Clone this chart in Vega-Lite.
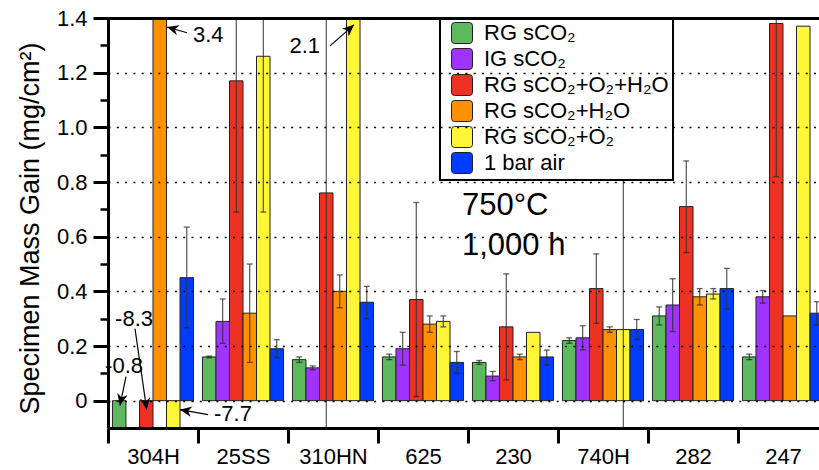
{
  "$schema": "https://vega.github.io/schema/vega-lite/v6.json",
  "width": 711,
  "height": 410,
  "autosize": {"type": "none"},
  "padding": {"left": 108, "top": 18, "right": 0, "bottom": 42},
  "config": {
    "view": {"stroke": null},
    "font": "Liberation Sans",
    "axis": {"labelFont": "Liberation Sans", "titleFont": "Liberation Sans", "labelColor": "black", "titleColor": "black"},
    "legend": {"strokeColor": "black", "strokeWidth": 2, "fillColor": "white"},
    "text": {"font": "Liberation Sans", "color": "black"}
  },
  "datasets": {
    "bars": [
      {"alloy": "304H", "env": "RG sCO₂", "value": -0.8},
      {"alloy": "304H", "env": "RG sCO₂+O₂+H₂O", "value": -8.3},
      {"alloy": "304H", "env": "RG sCO₂+H₂O", "value": 3.4},
      {"alloy": "304H", "env": "RG sCO₂+O₂", "value": -7.7},
      {"alloy": "304H", "env": "1 bar air", "value": 0.45, "lo": 0.267, "hi": 0.635},
      {"alloy": "25SS", "env": "RG sCO₂", "value": 0.16, "lo": 0.157, "hi": 0.163},
      {"alloy": "25SS", "env": "IG sCO₂", "value": 0.29, "lo": 0.21, "hi": 0.372},
      {"alloy": "25SS", "env": "RG sCO₂+O₂+H₂O", "value": 1.17, "lo": 0.69, "hi": 1.65},
      {"alloy": "25SS", "env": "RG sCO₂+H₂O", "value": 0.32, "lo": 0.14, "hi": 0.5},
      {"alloy": "25SS", "env": "RG sCO₂+O₂", "value": 1.26, "lo": 0.69, "hi": 1.83},
      {"alloy": "25SS", "env": "1 bar air", "value": 0.19, "lo": 0.157, "hi": 0.223},
      {"alloy": "310HN", "env": "RG sCO₂", "value": 0.15, "lo": 0.14, "hi": 0.16},
      {"alloy": "310HN", "env": "IG sCO₂", "value": 0.12, "lo": 0.113, "hi": 0.127},
      {"alloy": "310HN", "env": "RG sCO₂+O₂+H₂O", "value": 0.76, "lo": -0.2, "hi": 1.72},
      {"alloy": "310HN", "env": "RG sCO₂+H₂O", "value": 0.4, "lo": 0.34, "hi": 0.46},
      {"alloy": "310HN", "env": "RG sCO₂+O₂", "value": 2.1},
      {"alloy": "310HN", "env": "1 bar air", "value": 0.36, "lo": 0.3, "hi": 0.418},
      {"alloy": "625", "env": "RG sCO₂", "value": 0.16, "lo": 0.15, "hi": 0.17},
      {"alloy": "625", "env": "IG sCO₂", "value": 0.19, "lo": 0.13, "hi": 0.25},
      {"alloy": "625", "env": "RG sCO₂+O₂+H₂O", "value": 0.37, "lo": 0.015, "hi": 0.725},
      {"alloy": "625", "env": "RG sCO₂+H₂O", "value": 0.28, "lo": 0.25, "hi": 0.31},
      {"alloy": "625", "env": "RG sCO₂+O₂", "value": 0.29, "lo": 0.27, "hi": 0.31},
      {"alloy": "625", "env": "1 bar air", "value": 0.14, "lo": 0.1, "hi": 0.18},
      {"alloy": "230", "env": "RG sCO₂", "value": 0.14, "lo": 0.133, "hi": 0.147},
      {"alloy": "230", "env": "IG sCO₂", "value": 0.09, "lo": 0.073, "hi": 0.107},
      {"alloy": "230", "env": "RG sCO₂+O₂+H₂O", "value": 0.27, "lo": 0.076, "hi": 0.464},
      {"alloy": "230", "env": "RG sCO₂+H₂O", "value": 0.16, "lo": 0.15, "hi": 0.17},
      {"alloy": "230", "env": "RG sCO₂+O₂", "value": 0.25},
      {"alloy": "230", "env": "1 bar air", "value": 0.16, "lo": 0.13, "hi": 0.185},
      {"alloy": "740H", "env": "RG sCO₂", "value": 0.22, "lo": 0.21, "hi": 0.23},
      {"alloy": "740H", "env": "IG sCO₂", "value": 0.23, "lo": 0.186, "hi": 0.274},
      {"alloy": "740H", "env": "RG sCO₂+O₂+H₂O", "value": 0.41, "lo": 0.283, "hi": 0.537},
      {"alloy": "740H", "env": "RG sCO₂+H₂O", "value": 0.26, "lo": 0.25, "hi": 0.27},
      {"alloy": "740H", "env": "RG sCO₂+O₂", "value": 0.26, "lo": -0.4, "hi": 0.92},
      {"alloy": "740H", "env": "1 bar air", "value": 0.26, "lo": 0.224, "hi": 0.297},
      {"alloy": "282", "env": "RG sCO₂", "value": 0.31, "lo": 0.277, "hi": 0.343},
      {"alloy": "282", "env": "IG sCO₂", "value": 0.35, "lo": 0.253, "hi": 0.446},
      {"alloy": "282", "env": "RG sCO₂+O₂+H₂O", "value": 0.71, "lo": 0.542, "hi": 0.877},
      {"alloy": "282", "env": "RG sCO₂+H₂O", "value": 0.38, "lo": 0.35, "hi": 0.41},
      {"alloy": "282", "env": "RG sCO₂+O₂", "value": 0.39, "lo": 0.372, "hi": 0.41},
      {"alloy": "282", "env": "1 bar air", "value": 0.41, "lo": 0.335, "hi": 0.484},
      {"alloy": "247", "env": "RG sCO₂", "value": 0.16, "lo": 0.15, "hi": 0.17},
      {"alloy": "247", "env": "IG sCO₂", "value": 0.38, "lo": 0.357, "hi": 0.403},
      {"alloy": "247", "env": "RG sCO₂+O₂+H₂O", "value": 1.38, "lo": 0.82, "hi": 1.94},
      {"alloy": "247", "env": "RG sCO₂+H₂O", "value": 0.31},
      {"alloy": "247", "env": "RG sCO₂+O₂", "value": 1.37},
      {"alloy": "247", "env": "1 bar air", "value": 0.32, "lo": 0.277, "hi": 0.362}
    ],
    "arrows": [
      {"su": 0.878, "sv": 1.346, "tu": 0.656, "tv": 1.367},
      {"su": 2.467, "sv": 1.298, "tu": 2.733, "tv": 1.375},
      {"su": 0.2, "sv": 0.088, "tu": 0.133, "tv": -0.018},
      {"su": 0.3, "sv": 0.263, "tu": 0.43, "tv": -0.033},
      {"su": 1.111, "sv": -0.051, "tu": 0.8, "tv": -0.033}
    ],
    "leftNotes": [
      {"u": 0.944, "v": 1.313, "label": "3.4"},
      {"u": 1.178, "v": -0.073, "label": "-7.7"}
    ],
    "rightNotes": [
      {"u": 2.356, "v": 1.272, "label": "2.1"},
      {"u": 0.389, "v": 0.102, "label": "-0.8"},
      {"u": 0.5, "v": 0.274, "label": "-8.3"}
    ],
    "bigNotes": [
      {"u": 3.933, "v": 0.68, "label": "750°C"},
      {"u": 3.933, "v": 0.534, "label": "1,000 h"}
    ]
  },
  "layer": [
    {
      "data": {"name": "bars"},
      "encoding": {
        "x": {
          "field": "alloy", "type": "nominal",
          "scale": {"domain": ["304H", "25SS", "310HN", "625", "230", "740H", "282", "247"], "range": [0, 720], "paddingInner": 0, "paddingOuter": 0},
          "axis": {"orient": "bottom", "title": null, "tickBand": "extent", "tickSize": 15, "tickWidth": 3, "tickColor": "black", "domainColor": "black", "domainWidth": 3, "labelFontSize": 22, "labelPadding": 3, "labelAngle": 0, "grid": false, "zindex": 1}
        },
        "xOffset": {
          "field": "env", "type": "nominal",
          "scale": {"domain": ["RG sCO₂", "IG sCO₂", "RG sCO₂+O₂+H₂O", "RG sCO₂+H₂O", "RG sCO₂+O₂", "1 bar air"], "paddingInner": 0, "paddingOuter": 0.33}
        }
      },
      "layer": [
        {
          "mark": {"type": "bar", "clip": true, "stroke": "#222", "strokeWidth": 1},
          "encoding": {
            "y": {
              "field": "value", "type": "quantitative",
              "scale": {"domain": [-0.1, 1.4], "nice": false, "zero": false},
              "title": "Specimen Mass Gain (mg/cm²)",
              "axis": {"values": [0, 0.2, 0.4, 0.6, 0.8, 1, 1.2, 1.4], "labelExpr": "datum.value == 0 ? '0' : format(datum.value, '.1f')", "labelFontSize": 22, "labelPadding": 6, "tickSize": 15, "tickWidth": 3, "tickColor": "black", "domainColor": "black", "domainWidth": 3, "grid": true, "gridColor": "black", "gridDash": [2, 6.3], "gridWidth": 1.5, "titleFontSize": 27, "titleFontWeight": "normal", "titleX": -78, "titleY": 210, "titleAngle": -90, "titleAlign": "center", "titleBaseline": "middle", "zindex": 1}
            },
            "color": {
              "field": "env", "type": "nominal",
              "scale": {"domain": ["RG sCO₂", "IG sCO₂", "RG sCO₂+O₂+H₂O", "RG sCO₂+H₂O", "RG sCO₂+O₂", "1 bar air"], "range": ["#5cb95d", "#a033ff", "#ed3224", "#ff9000", "#fff638", "#003cff"]},
              "legend": {"orient": "none", "legendX": 332, "legendY": 0, "title": null, "padding": 4, "symbolType": "M-0.7,-1L0.7,-1Q1,-1,1,-0.7L1,0.7Q1,1,0.7,1L-0.7,1Q-1,1,-1,0.7L-1,-0.7Q-1,-1,-0.7,-1Z", "symbolSize": 441, "symbolStrokeColor": "#222", "symbolStrokeWidth": 1, "symbolOpacity": 1, "symbolOffset": 7, "labelOffset": 11, "labelFontSize": 22, "labelFont": "Liberation Sans", "labelColor": "black", "rowPadding": 0, "labelLimit": 400}
            }
          }
        },
        {
          "transform": [{"filter": "isValid(datum.lo)"}],
          "mark": {"type": "rule", "clip": true, "color": "#333", "strokeWidth": 1},
          "encoding": {
            "y": {"field": "lo", "type": "quantitative", "title": "Specimen Mass Gain (mg/cm²)"},
            "y2": {"field": "hi"}
          }
        },
        {
          "transform": [{"filter": "isValid(datum.lo)"}],
          "mark": {"type": "tick", "orient": "horizontal", "clip": true, "color": "#222", "size": 6, "thickness": 1.3},
          "encoding": {"y": {"field": "hi", "type": "quantitative", "title": "Specimen Mass Gain (mg/cm²)"}}
        },
        {
          "transform": [{"filter": "isValid(datum.lo)"}],
          "mark": {"type": "tick", "orient": "horizontal", "clip": true, "color": "#222", "size": 6, "thickness": 1.3},
          "encoding": {"y": {"field": "lo", "type": "quantitative", "title": "Specimen Mass Gain (mg/cm²)"}}
        }
      ]
    },
    {
      "layer": [
        {
          "data": {"name": "arrows"},
          "mark": {"type": "rule", "color": "black", "strokeWidth": 1.2},
          "encoding": {
            "x": {"field": "su", "type": "quantitative", "scale": {"domain": [0, 7.9], "nice": false, "zero": false}, "title": null,
              "axis": {"orient": "top", "title": null, "ticks": false, "labels": false, "grid": false, "domainColor": "black", "domainWidth": 3, "zindex": 1}},
            "y": {"field": "sv", "type": "quantitative", "scale": {"domain": [-0.1, 1.4], "nice": false, "zero": false}, "title": null,
              "axis": {"orient": "left", "title": null, "values": [0.1, 0.3, 0.5, 0.7, 0.9, 1.1, 1.3], "labels": false, "domain": false, "grid": false, "tickSize": 8, "tickWidth": 2.5, "tickColor": "black", "zindex": 1}},
            "x2": {"field": "tu"},
            "y2": {"field": "tv"}
          }
        },
        {
          "data": {"name": "arrows"},
          "transform": [{"calculate": "atan2((datum.tu - datum.su) * 90, (datum.tv - datum.sv) * 273.5) * 180 / PI", "as": "ang"}],
          "mark": {"type": "point", "filled": true, "color": "black", "opacity": 1, "shape": "M0,0L0.8,1.8L0,1.25L-0.8,1.8Z", "size": 170},
          "encoding": {
            "x": {"field": "tu", "type": "quantitative", "title": null},
            "y": {"field": "tv", "type": "quantitative", "title": null},
            "angle": {"field": "ang", "type": "quantitative", "scale": null}
          }
        },
        {
          "data": {"name": "leftNotes"},
          "mark": {"type": "text", "align": "left", "baseline": "alphabetic", "fontSize": 22},
          "encoding": {
            "x": {"field": "u", "type": "quantitative", "title": null},
            "y": {"field": "v", "type": "quantitative", "title": null},
            "text": {"field": "label"}
          }
        },
        {
          "data": {"name": "rightNotes"},
          "mark": {"type": "text", "align": "right", "baseline": "alphabetic", "fontSize": 22},
          "encoding": {
            "x": {"field": "u", "type": "quantitative", "title": null},
            "y": {"field": "v", "type": "quantitative", "title": null},
            "text": {"field": "label"}
          }
        },
        {
          "data": {"name": "bigNotes"},
          "mark": {"type": "text", "align": "left", "baseline": "alphabetic", "fontSize": 31},
          "encoding": {
            "x": {"field": "u", "type": "quantitative", "title": null},
            "y": {"field": "v", "type": "quantitative", "title": null},
            "text": {"field": "label"}
          }
        }
      ]
    }
  ],
  "resolve": {"scale": {"x": "independent", "y": "independent"}}
}
